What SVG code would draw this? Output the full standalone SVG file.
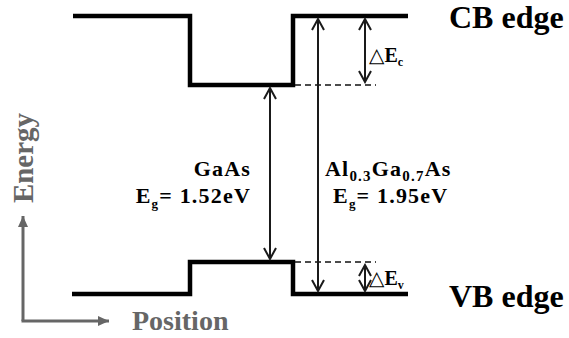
<svg xmlns="http://www.w3.org/2000/svg" width="569" height="338" viewBox="0 0 569 338">
<style>
.band{fill:none;stroke:#000;stroke-width:4.5;stroke-linejoin:miter}
.dash{fill:none;stroke:#111;stroke-width:1.3;stroke-dasharray:6,4}
.arr{fill:none;stroke:#1a1a1a;stroke-width:2;marker-start:url(#v);marker-end:url(#v)}
.axis{fill:none;stroke:#666;stroke-width:3}
text{font-family:"Liberation Serif","DejaVu Serif","Times New Roman",serif;font-weight:bold}
.t{fill:#000}
.g{fill:#666}
.m{letter-spacing:1.2px}
</style>
<defs>
<marker id="v" viewBox="0 0 14 14" markerWidth="14" markerHeight="14" refX="12" refY="7" orient="auto-start-reverse" markerUnits="userSpaceOnUse">
<path d="M1,1 L12,7 L1,13" fill="none" stroke="#1a1a1a" stroke-width="2"/>
</marker>
<marker id="f" viewBox="0 0 12 12" markerWidth="12" markerHeight="12" refX="11" refY="6" orient="auto" markerUnits="userSpaceOnUse">
<path d="M0,1 L11,6 L0,11 Z" fill="#666"/>
</marker>
</defs>
<g id="cb-band"><path class="band" d="M73,16 H190 V85 H293 V16 H408"/></g>
<g id="vb-band"><path class="band" d="M72,294 H190 V262 H293 V294 H408"/></g>
<g id="connectors">
<path class="dash" d="M295,85 H376"/>
<path class="dash" d="M295,262 H376"/>
<path class="arr" d="M270,88 V259"/>
<path class="arr" d="M318,19 V291"/>
<path class="arr" d="M365,19 V82"/>
<path class="arr" d="M365,265 V291"/>
</g>
<g id="axes">
<path class="axis" d="M23,321 V216" marker-end="url(#f)"/>
<path class="axis" d="M21.5,321 H109" marker-end="url(#f)"/>
<text class="g" font-family="Liberation Serif, serif" font-size="29" transform="translate(33,158) rotate(-90)" text-anchor="middle">Energy</text>
<text class="g" font-family="Liberation Serif, serif" x="132" y="330" font-size="28">Position</text>
</g>
<g id="cb-label"><text class="t" font-family="Liberation Serif, serif" x="449" y="28" font-size="32">CB edge</text></g>
<g id="vb-label"><text class="t" font-family="Liberation Serif, serif" x="449" y="307" font-size="32">VB edge</text></g>
<g id="dEc"><text class="t" font-family="Liberation Serif, serif" x="369" y="62" font-size="20"><tspan font-weight="normal">△</tspan>E<tspan font-size="12" dy="4">c</tspan></text></g>
<g id="dEv"><text class="t" font-family="Liberation Serif, serif" x="369" y="285" font-size="20"><tspan font-weight="normal">△</tspan>E<tspan font-size="12" dy="4">v</tspan></text></g>
<g id="gaas">
<text class="t m" font-family="Liberation Serif, serif" x="251" y="176" font-size="22" text-anchor="end">GaAs</text>
<text class="t m" font-family="Liberation Serif, serif" x="251" y="203" font-size="22" text-anchor="end">E<tspan font-size="13" dy="5">g</tspan><tspan dy="-5">= 1.52eV</tspan></text>
</g>
<g id="algaas">
<text class="t m" font-family="Liberation Serif, serif" x="325" y="176" font-size="22">Al<tspan font-size="15" dy="5">0.3</tspan><tspan dy="-5">Ga</tspan><tspan font-size="15" dy="5">0.7</tspan><tspan dy="-5">As</tspan></text>
<text class="t m" font-family="Liberation Serif, serif" x="333" y="203" font-size="22">E<tspan font-size="13" dy="5">g</tspan><tspan dy="-5">= 1.95eV</tspan></text>
</g>
</svg>
